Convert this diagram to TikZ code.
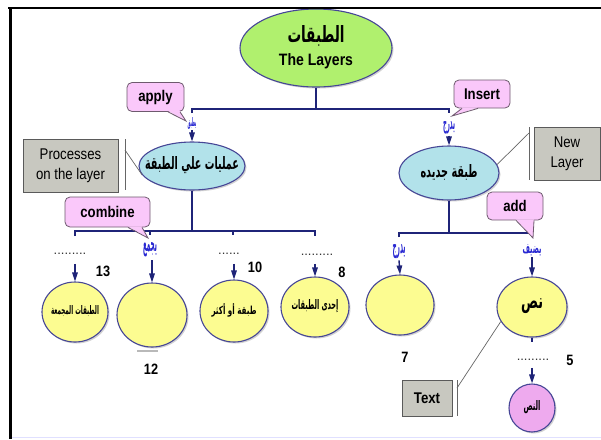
\documentclass[tikz,border=0pt]{standalone}
\usepackage{fontspec}
\usepackage{graphicx}
\setmainfont{Liberation Sans}
\newfontfamily\arfont[Script=Arabic]{DejaVu Sans}
\newfontfamily\nar[FakeStretch=0.85]{Liberation Sans}
\TeXXeTstate=1
\usetikzlibrary{shapes.geometric,arrows.meta,shadows,calc}
\definecolor{navy}{RGB}{31,36,120}
\definecolor{lblue}{RGB}{40,40,210}
\definecolor{greenf}{RGB}{176,240,110}
\definecolor{bluef}{RGB}{178,226,234}
\definecolor{yellowf}{RGB}{252,252,145}
\definecolor{pinkf}{RGB}{250,200,250}
\definecolor{pinkc}{RGB}{238,170,238}
\definecolor{grayf}{RGB}{200,200,192}
\definecolor{ellb}{RGB}{70,70,150}
\definecolor{callb}{RGB}{110,90,110}
\definecolor{boxb}{RGB}{90,90,90}
\newcommand\arb[3]{\resizebox{#1}{#2}{\arfont\bfseries #3}}
\newcommand\calltail[4]{%
  \fill[pinkf] ([xshift=#2pt,yshift=1pt]#1.south) -- (#4) -- ([xshift=#3pt,yshift=1pt]#1.south) -- cycle;
  \draw[callb,line width=0.8pt] ([xshift=#2pt]#1.south) -- (#4) -- ([xshift=#3pt]#1.south);}
\begin{document}
\begin{tikzpicture}[x=1pt,y=-1pt,
  ln/.style={draw=navy,line width=1.6pt},
  arr/.style={draw=navy,line width=1.4pt,-{Triangle[width=5.5pt,length=9pt]}},
  ell/.style={ellipse,draw=ellb,line width=1.1pt,inner sep=0pt,
    drop shadow={shadow xshift=1.5pt,shadow yshift=-1.5pt,opacity=0.35}},
  pcall/.style={rectangle,rounded corners=5pt,draw=callb,fill=pinkf,line width=0.8pt,
    font=\nar\bfseries\fontsize{15.5}{17}\selectfont,inner sep=0pt},
  gbox/.style={rectangle,draw=boxb,fill=grayf,line width=0.9pt,align=center,
    font=\nar\fontsize{15.5}{20}\selectfont,inner sep=0pt},
  brk/.style={draw=gray!80!black,line width=0.7pt},
  lbl/.style={text=lblue,inner sep=1pt},
  numlbl/.style={font=\nar\bfseries\fontsize{15}{17}\selectfont,inner sep=0pt},
  dotlbl/.style={font=\fontsize{13}{13}\selectfont,text=black!80,inner sep=0pt}]
\useasboundingbox (0,0) rectangle (601,439);
\fill[white] (0,0) rectangle (601,439);

% root
\node[ell,fill=greenf,minimum width=152pt,minimum height=78pt] (root) at (316,48) {};
\node (rootA) at (316,36) {\arb{57pt}{17pt}{\beginR الطبقات\endR}};
\node[font=\nar\bfseries\fontsize{16.5}{18}\selectfont] (rootE) at (316,61) {The Layers};

% top bar
\coordinate (bL) at (192,109);
\coordinate (bR) at (449,109);
\draw[ln] (root.south) -- (root.south |- bL);
\draw[ln] ([yshift=-4pt]bL) -- (bL) -- (bR) -- ([yshift=-4pt]bR);

% middle concepts
\node[ell,fill=bluef,minimum width=106pt,minimum height=48pt] (lft) at (192,166) {};
\node (lftT) at (192,165) {\arb{94pt}{13pt}{\beginR عمليات علي الطبقة\endR}};
\node[ell,fill=bluef,minimum width=100pt,minimum height=54pt] (rgt) at (449,173) {};
\node (rgtT) at (449,172) {\arb{57pt}{13pt}{\beginR طبقة جديده\endR}};

\node[lbl] (lApply) at (192,123) {\arb{9pt}{9pt}{\beginR يطبق\endR}};
\node[lbl] (lInsert) at (449,128) {\arb{12pt}{8pt}{\beginR يدرج\endR}};
\draw[arr] (lApply.south) -- (lft.north);
\draw[arr] (lInsert.south) -- (rgt.north);

\node[pcall,minimum width=57pt,minimum height=29pt] (cApply) at (155.5,97) {apply};
\calltail{cApply}{12.5}{24.5}{186,121}
\node[pcall,minimum width=56pt,minimum height=28pt] (cInsert) at (482,94) {Insert};
\calltail{cInsert}{-20}{-4}{452,116}

% side boxes
\node[gbox,minimum width=95pt,minimum height=53pt] (gProc) at (70.5,165.5) {Processes\\on the layer};
\coordinate (kP1) at (125,139);
\coordinate (kP2) at (125,190);
\coordinate (kP3) at (125,150);
\draw[brk] (kP1) -- (kP2);
\draw[brk] (kP3) -- (lft.190);

\node[gbox,minimum width=66pt,minimum height=53pt] (gNew) at (567,153.5) {New\\Layer};
\coordinate (kN1) at (529,127);
\coordinate (kN2) at (529,180);
\coordinate (kN3) at (529,133);
\draw[brk] (kN1) -- (kN2);
\draw[brk] (kN3) -- (rgt.10);

% lower left bar
\coordinate (c1) at (75,231);
\coordinate (c2) at (150,231);
\coordinate (c3) at (233,231);
\coordinate (c4) at (315,231);
\draw[ln] (lft.south) -- (lft.south |- c1);
\draw[ln] ([yshift=-5pt]c1) -- (c1) -- (c4) -- ([yshift=-5pt]c4);
\draw[ln] (c2) -- ++(0,4);
\draw[ln] (c3) -- ++(0,4);

\node[pcall,minimum width=85pt,minimum height=30pt] (cComb) at (107.5,212) {combine};
\calltail{cComb}{20.5}{34.5}{148,238}

\node[dotlbl] (d1) at (70,254) {.........};
\node[lbl] (lComb) at (150,250) {\arb{14pt}{9pt}{\beginR يجمع\endR}};
\node[dotlbl] (d3) at (229,254) {......};
\node[dotlbl] (d4) at (317,255) {.........};

\node[ell,fill=yellowf,minimum width=66pt,minimum height=60pt] (e1) at (75,312) {};
\node (e1T) at (75,311) {\arb{48pt}{9pt}{\beginR الطبقات المجمعة\endR}};
\node[ell,fill=yellowf,minimum width=70pt,minimum height=64pt] (e2) at (152,315) {};
\node[ell,fill=yellowf,minimum width=68pt,minimum height=62pt] (e3) at (234,311) {};
\node (e3T) at (234,310) {\arb{45pt}{11pt}{\beginR طبقة أو أكثر\endR}};
\node[ell,fill=yellowf,minimum width=68pt,minimum height=60pt] (e4) at (315,307) {};
\node (e4T) at (315,306) {\arb{47pt}{10pt}{\beginR إحدى الطبقات\endR}};

\draw[arr,shorten <=9pt] (d1.south -| e1.north) -- (e1.north);
\draw[arr,shorten <=2pt] (lComb.south -| e2.north) -- (e2.north);
\draw[arr,shorten <=9pt] (d3.south -| e3.north) -- (e3.north);
\draw[arr,shorten <=8pt] (d4.south -| e4.north) -- (e4.north);

\node[numlbl] (n13) at (103,271) {13};
\node[numlbl] (n10) at (255,267) {10};
\node[numlbl] (n8) at (342,272) {8};
\node[numlbl] (n12) at (151,369) {12};
\draw[gray!55,line width=2pt] (137,351) -- (158,351);

% lower right bar
\coordinate (r1) at (399,233);
\coordinate (r2) at (532,233);
\draw[ln] (rgt.south) -- (rgt.south |- r1);
\draw[ln] ([yshift=-4pt]r1) -- (r1) -- (r2) -- ([yshift=-4pt]r2);

\node[pcall,minimum width=56pt,minimum height=28pt] (cAdd) at (515,206) {add};
\calltail{cAdd}{1}{19}{533,238}

\node[lbl] (lIns2) at (399,252) {\arb{13pt}{9pt}{\beginR يدرج\endR}};
\node[lbl] (lAdd) at (532,250) {\arb{19pt}{9pt}{\beginR يضيف\endR}};

\node[ell,fill=yellowf,minimum width=68pt,minimum height=60pt] (e7) at (400,305) {};
\node[ell,fill=yellowf,minimum width=70pt,minimum height=60pt] (nas) at (532,307) {};
\node (nasT) at (532,306) {\arb{22pt}{10pt}{\beginR نص\endR}};
\draw[arr] (lIns2.south) -- (e7.north);
\draw[arr] (lAdd.south) -- (nas.north);

\node[numlbl] (n7) at (405,357) {7};
\node[numlbl] (n5) at (570,360) {5};
\node[dotlbl] (d5) at (533,360) {.........};
\draw[ln] (nas.south) -- ++(0,4);

\node[ell,fill=pinkc,minimum width=46pt,minimum height=48pt] (pk) at (532,408) {};
\node (pkT) at (532,407) {\arb{17pt}{10pt}{\beginR النص\endR}};
\draw[arr,shorten <=7pt] (d5.south -| pk.north) -- (pk.north);

\node[gbox,font=\nar\bfseries\fontsize{15.5}{17}\selectfont,minimum width=50pt,minimum height=36pt] (gText) at (427,398) {Text};
\coordinate (kT1) at (457,380);
\coordinate (kT2) at (457,416);
\coordinate (kT3) at (457,388);
\draw[brk] (kT1) -- (kT2);
\draw[brk] (kT3) -- (nas.205);

% frame
\draw[black,line width=2pt] (8,8) -- (601,8);
\draw[black,line width=3pt] (10.5,7) -- (10.5,439);
\draw[blue!12,line width=1pt] (12,437.5) -- (601,437.5);
\end{tikzpicture}
\end{document}
